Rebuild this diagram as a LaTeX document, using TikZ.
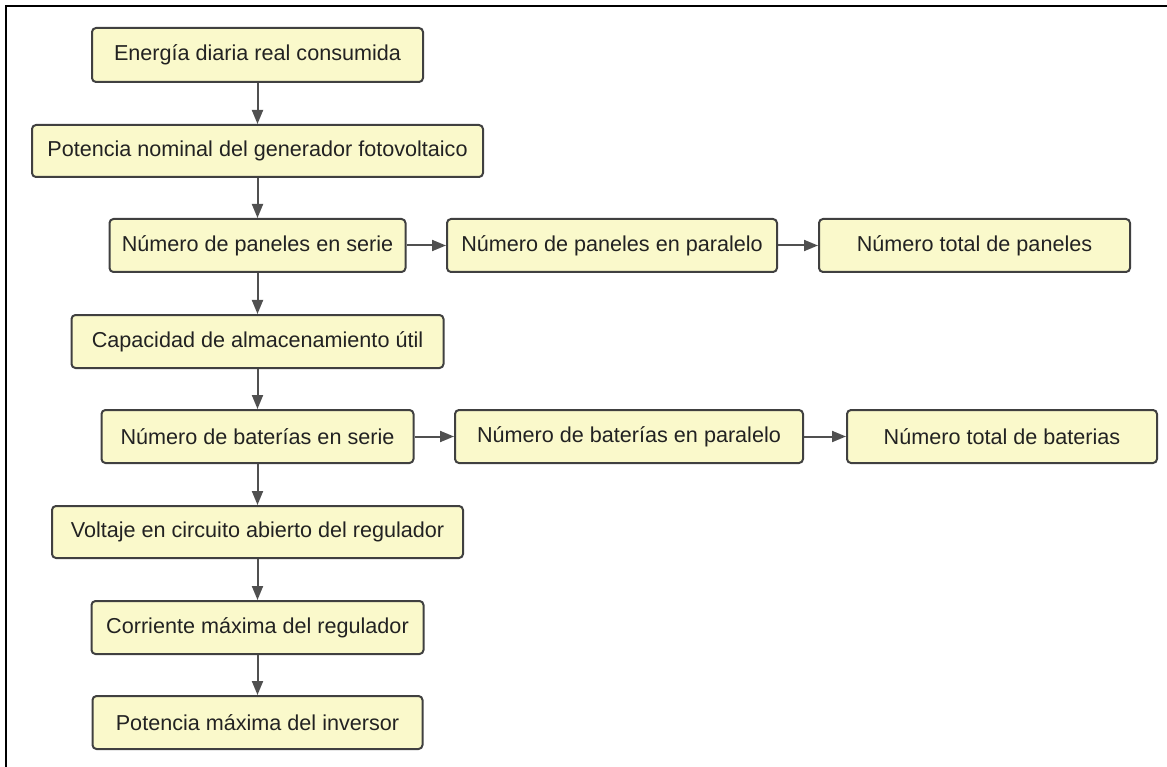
\documentclass[tikz,border=0pt]{standalone}
\usepackage{fontspec}
\setmainfont{Liberation Sans}
\usepackage{tikz}
\usetikzlibrary{arrows.meta}
\definecolor{boxfill}{RGB}{250,249,203}
\definecolor{boxline}{RGB}{64,64,64}
\definecolor{arrowgray}{RGB}{80,80,80}
\definecolor{textgray}{RGB}{34,34,34}
\tikzset{
    every node/.style={rectangle, rounded corners=4pt, draw=boxline, fill=boxfill, line width=2pt,
      minimum height=53pt, inner sep=0pt, text=textgray, font=\fontsize{21.6}{25}\selectfont}
}
\tikzset{every edge/.append style={draw=arrowgray, line width=2pt}}
\tikzset{>={Triangle[length=14pt, width=11pt]}}

\begin{document}
\begin{tikzpicture}[x=1pt, y=-1pt]
  \useasboundingbox (0, 0) rectangle (1167, 767);
  \draw [line width=2.5pt] (6, 800) -- (6, 6) -- (1200, 6);

  \node (edia) [minimum width=331pt, minimum height=54pt] at (257.5, 55) {Energía diaria real consumida};
  \node (pnom) [minimum width=451pt, minimum height=52pt] at (257.5, 151) {Potencia nominal del generador fotovoltaico};
  \node (pser) [minimum width=296pt] at (257.5, 245.5) {Número de paneles en serie};
  \node (ppar) [minimum width=330pt] at (612, 245.5) {Número de paneles en paralelo};
  \node (ptot) [minimum width=311pt] at (974.5, 245.5) {Número total de paneles};
  \node (calm) [minimum width=372pt] at (257.5, 341.5) {Capacidad de almacenamiento útil};
  \node (bser) [minimum width=312pt] at (257.5, 436.5) {Número de baterías en serie};
  \node (bpar) [minimum width=348pt] at (629, 436.5) {Número de baterías en paralelo};
  \node (btot) [minimum width=310pt] at (1002, 436.5) {Número total de baterias};
  \node (vreg) [minimum width=411pt, minimum height=52pt] at (257.5, 532) {Voltaje en circuito abierto del regulador};
  \node (ireg) [minimum width=332pt] at (257.5, 627.5) {Corriente máxima del regulador};
  \node (pinv) [minimum width=330pt] at (257.5, 722.5) {Potencia máxima del inversor};

  \draw (edia) edge[->] (pnom);
  \draw (pnom) edge[->] (pser);
  \draw (pser) edge[->] (calm);
  \draw (calm) edge[->] (bser);
  \draw (bser) edge[->] (vreg);
  \draw (vreg) edge[->] (ireg);
  \draw (ireg) edge[->] (pinv);

  \draw (pser) edge[->] (ppar);
  \draw (ppar) edge[->] (ptot);
  \draw (bser) edge[->] (bpar);
  \draw (bpar) edge[->] (btot);
\end{tikzpicture}
\end{document}
